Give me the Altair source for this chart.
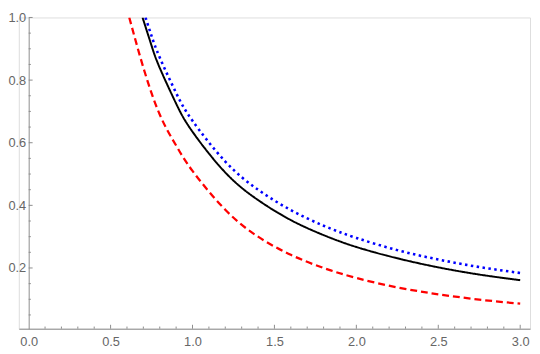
import altair as alt
import pandas as pd

# Curve samples
black_x = [0.695, 0.75, 0.8, 0.9, 1.0, 1.2, 1.4, 1.6, 1.8, 2.0, 2.25, 2.5, 2.75, 3.0]
black_y = [1.0, 0.91, 0.839, 0.725, 0.635, 0.505, 0.417, 0.353, 0.305, 0.267, 0.231, 0.202, 0.179, 0.161]

blue_x = [0.713, 0.75, 0.8, 0.9, 1.0, 1.2, 1.4, 1.6, 1.8, 2.0, 2.25, 2.5, 2.75, 3.0]
blue_y = [1.0, 0.941, 0.872, 0.759, 0.67, 0.54, 0.45, 0.385, 0.335, 0.296, 0.257, 0.227, 0.203, 0.184]

red_x = [0.614, 0.7, 0.8, 0.9, 1.0, 1.2, 1.4, 1.6, 1.8, 2.0, 2.25, 2.5, 2.75, 3.0]
red_y = [1.0, 0.84, 0.69, 0.591, 0.51, 0.386, 0.3, 0.242, 0.2, 0.168, 0.138, 0.116, 0.099, 0.086]

x_labels = [0.0, 0.5, 1.0, 1.5, 2.0, 2.5, 3.0]
y_labels = [0.2, 0.4, 0.6, 0.8, 1.0]
x_major = [0.5, 1.0, 1.5, 2.0, 2.5, 3.0]
x_minor = [0.1, 0.2, 0.3, 0.4, 0.6, 0.7, 0.8, 0.9, 1.1, 1.2, 1.3, 1.4, 1.6, 1.7, 1.8, 1.9,
           2.1, 2.2, 2.3, 2.4, 2.6, 2.7, 2.8, 2.9]
y_major = [0.2, 0.4, 0.6, 0.8, 1.0]
y_minor = [0.05, 0.1, 0.15, 0.25, 0.3, 0.35, 0.45, 0.5, 0.55, 0.65, 0.7, 0.75, 0.85, 0.9, 0.95]

W, H = 519, 316
X0PIX = 10  # pixel position of x=0 inside the plot
XDOM = [-0.06, 3.06]
YDOM = [0.006, 1.0]

df = pd.concat([
    pd.DataFrame({"x": black_x, "y": black_y, "s": "black"}),
    pd.DataFrame({"x": blue_x, "y": blue_y, "s": "blue"}),
    pd.DataFrame({"x": red_x, "y": red_y, "s": "red"}),
])

xs = alt.Scale(domain=XDOM, nice=False, zero=False)
ys = alt.Scale(domain=YDOM, nice=False, zero=False)

AX_COL = "#8c8c8c"
LAB_COL = "#666666"
FONT = "Liberation Sans"

xaxis = alt.Axis(values=x_labels, format=".1f", ticks=False, grid=False, domainColor=AX_COL,
                 domainWidth=1, labelColor=LAB_COL, labelFontSize=13, labelFont=FONT,
                 labelPadding=7, title=None, labelFlush=False)
yaxis = alt.Axis(values=y_labels, format=".1f", ticks=False, grid=False, domainColor=AX_COL,
                 domainWidth=1, labelColor=LAB_COL, labelFontSize=13, labelFont=FONT,
                 labelPadding=3, title=None, offset=-X0PIX, labelFlush=False)


def curve(name, color, dash, width):
    return alt.Chart(df[df.s == name]).mark_line(
        color=color, strokeDash=dash, strokeWidth=width, clip=True, interpolate="natural"
    ).encode(x=alt.X("x:Q", scale=xs, axis=xaxis), y=alt.Y("y:Q", scale=ys, axis=yaxis))


red = curve("red", "#ff0000", [7, 4], 2.3)
blue = curve("blue", "#0000ff", [2.5, 3.5], 2.6)
black = curve("black", "#000000", [1, 0], 2.0)

xt_major = alt.Chart(pd.DataFrame({"t": x_major})).mark_rule(color=AX_COL, strokeWidth=1).encode(
    x=alt.X("t:Q", scale=xs), y=alt.value(H), y2=alt.value(H - 4))
xt_minor = alt.Chart(pd.DataFrame({"t": x_minor})).mark_rule(color=AX_COL, strokeWidth=1).encode(
    x=alt.X("t:Q", scale=xs), y=alt.value(H), y2=alt.value(H - 2.2))
yt_major = alt.Chart(pd.DataFrame({"t": y_major})).mark_rule(color=AX_COL, strokeWidth=1).encode(
    y=alt.Y("t:Q", scale=ys), x=alt.value(X0PIX), x2=alt.value(X0PIX + 4))
yt_minor = alt.Chart(pd.DataFrame({"t": y_minor})).mark_rule(color=AX_COL, strokeWidth=1).encode(
    y=alt.Y("t:Q", scale=ys), x=alt.value(X0PIX), x2=alt.value(X0PIX + 2.2))

chart = alt.layer(red, blue, black, xt_major, xt_minor, yt_major, yt_minor).properties(
    width=W, height=H,
    autosize=alt.AutoSizeParams(type="none"),
    padding={"left": 11, "top": 7, "right": 2, "bottom": 20},
).configure_view(stroke=None).configure(background="white")

chart.save("out.html", embed_options={"renderer": "svg", "actions": False})
